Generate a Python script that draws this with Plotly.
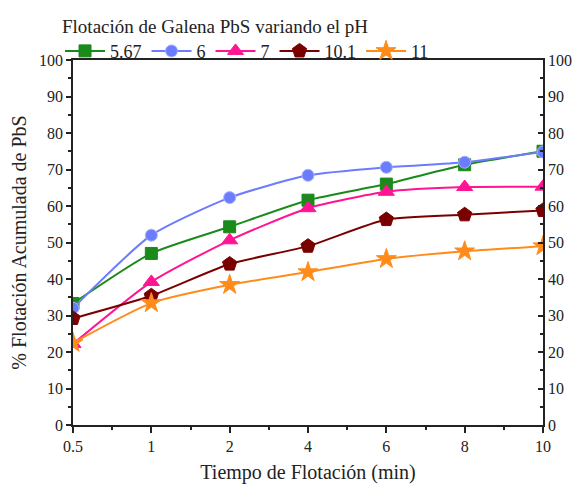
import plotly.graph_objects as go

time_labels = ["0.5", "1", "2", "4", "6", "8", "10"]
series_names = ["5.67", "6", "7", "10.1", "11"]
ph_567 = [33.3, 47.0, 54.3, 61.6, 66.0, 71.3, 75.0]
ph_6 = [32.0, 52.0, 62.3, 68.4, 70.6, 72.0, 74.8]
ph_7 = [22.2, 39.2, 50.6, 59.4, 63.9, 65.2, 65.3]
ph_101 = [29.2, 35.4, 44.1, 49.0, 56.3, 57.6, 58.8]
ph_11 = [22.5, 33.4, 38.4, 41.9, 45.5, 47.6, 49.0]
y_ticks = [0, 10, 20, 30, 40, 50, 60, 70, 80, 90, 100]

values = [ph_567, ph_6, ph_7, ph_101, ph_11]
colors = ["#1a8a1a", "#6b7cff", "#ff1493", "#7a0000", "#ff8c1a"]
symbols = ["square", "circle", "triangle-up", "pentagon", "star"]
sizes = [12, 12, 14, 15, 15]

xpos = list(range(len(time_labels)))
font = "Liberation Serif, Times New Roman, serif"

fig = go.Figure()
for name, vals, c, s, sz in zip(series_names, values, colors, symbols, sizes):
    fig.add_trace(go.Scatter(
        x=xpos, y=vals, name=name, mode="lines+markers",
        line=dict(color=c, width=2, shape="spline", smoothing=0.6),
        marker=dict(symbol=s, size=sz, color=c,
                    line=dict(color=c if s != "circle" else "#a8b2ff", width=1)),
    ))

# invisible trace for the right mirrored axis
fig.add_trace(go.Scatter(x=[xpos[0]], y=[y_ticks[0]], yaxis="y2", mode="markers",
                         marker=dict(opacity=0), showlegend=False, hoverinfo="skip"))

axis_common = dict(showline=True, linecolor="#222", linewidth=1.5,
                   tickfont=dict(family=font, size=16, color="#222"),
                   showgrid=False, zeroline=False)

fig.update_layout(
    width=578, height=476,
    margin=dict(l=65, r=43, t=52, b=59, autoexpand=False),
    paper_bgcolor="white", plot_bgcolor="white",
    font=dict(family=font, color="#222"),
    xaxis=dict(**axis_common, range=[0, 6], tickmode="array", tickvals=xpos,
               ticktext=time_labels, ticks="outside", ticklen=6, tickwidth=1.5,
               tickcolor="#222", mirror=True,
               minor=dict(dtick=0.5, tick0=0, ticks="outside", ticklen=3, tickcolor="#222"),
               title=dict(text="Tiempo de Flotación (min)", font=dict(family=font, size=20),
                          standoff=14)),
    yaxis=dict(**axis_common, range=[0, 100], tickvals=y_ticks, ticks="outside",
               ticklen=5, tickwidth=1.5, tickcolor="#222", mirror=True,
               minor=dict(dtick=5, ticks="outside", ticklen=3, tickcolor="#222"),
               title=dict(text="% Flotación Acumulada de PbS", font=dict(family=font, size=20),
                          standoff=10)),
    yaxis2=dict(**axis_common, range=[0, 100], tickvals=y_ticks, overlaying="y",
                side="right", ticks="inside", ticklen=5, tickwidth=1.5, tickcolor="#222",
                minor=dict(dtick=5, ticks="inside", ticklen=3, tickcolor="#222")),
    legend=dict(orientation="h", xref="container", yref="container",
                x=0.09, y=1.0, xanchor="left", yanchor="top",
                title=dict(text="Flotación de Galena PbS variando el pH", side="top",
                           font=dict(family=font, size=19)),
                font=dict(family=font, size=18), itemwidth=40, tracegroupgap=0,
                bgcolor="rgba(0,0,0,0)"),
)

fig.write_html("out.html")
